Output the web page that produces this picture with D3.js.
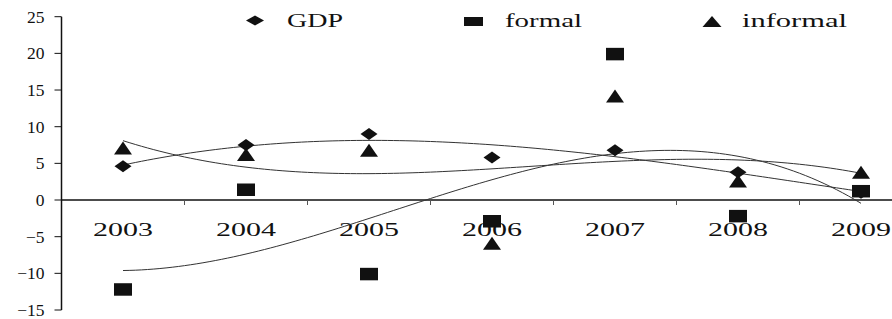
<!DOCTYPE html>
<html>
<head>
<meta charset="utf-8">
<script src="https://cdn.jsdelivr.net/npm/d3@7"></script>
<style>
  body { margin: 0; background: #fff; }
  svg text { font-family: "Liberation Serif", "Times New Roman", serif; fill: #111; }
</style>
</head>
<body>
<div id="chart"></div>
<script>
var years = ["2003", "2004", "2005", "2006", "2007", "2008", "2009"];
var gdp = [4.6, 7.5, 9.0, 5.8, 6.8, 3.8, 1.0];
var formal = [-12.2, 1.4, -10.1, -2.9, 19.9, -2.2, 1.2];
var informal = [7.1, 6.2, 6.8, -5.9, 14.2, 2.6, 3.8];
var y_ticks = [25, 20, 15, 10, 5, 0, -5, -10, -15];
var series_names = ["GDP", "formal", "informal"];

var graph_w = 892;
var graph_h = 319;

var x_ax = d3.scalePoint()
  .domain(years)
  .range([123, 861]);
var step = x_ax.step();
var x_idx = d3.scaleLinear()
  .domain([0, years.length - 1])
  .range([123, 861]);
var y_ax = d3.scaleLinear()
  .domain([-15, 25])
  .range([310, 16.7]);

// least squares polynomial (like the excel trendline), order 3
function polyfit(vals, order) {
  var n = order + 1;
  var A = [], b = [];
  for (var r = 0; r < n; r++) {
    A.push([]);
    for (var c = 0; c < n; c++) {
      A[r].push(d3.sum(vals, function(v, i) { return Math.pow(i, r + c); }));
    }
    b.push(d3.sum(vals, function(v, i) { return v * Math.pow(i, r); }));
  }
  for (var p = 0; p < n; p++) {
    for (var q = p + 1; q < n; q++) {
      var f = A[q][p] / A[p][p];
      for (var k = p; k < n; k++) A[q][k] -= f * A[p][k];
      b[q] -= f * b[p];
    }
  }
  var coef = new Array(n).fill(0);
  for (var p2 = n - 1; p2 >= 0; p2--) {
    var s = b[p2];
    for (var k2 = p2 + 1; k2 < n; k2++) s -= A[p2][k2] * coef[k2];
    coef[p2] = s / A[p2][p2];
  }
  return function(t) {
    return d3.sum(coef, function(c, i) { return c * Math.pow(t, i); });
  };
}

var svg_obj = d3.select("#chart").append("svg")
  .attr("width", graph_w)
  .attr("height", graph_h);

// y axis
var y_axis = svg_obj.append("g")
  .attr("transform", "translate(61.5,0)");
y_axis.append("line")
  .attr("x1", 0).attr("x2", 0)
  .attr("y1", y_ax(25)).attr("y2", y_ax(-15))
  .attr("stroke", "#111").attr("stroke-width", 1.5);
y_axis.selectAll(".ytick")
  .data(y_ticks)
  .enter()
    .append("line")
    .attr("x1", -7).attr("x2", 0)
    .attr("y1", function(d) { return y_ax(d); })
    .attr("y2", function(d) { return y_ax(d); })
    .attr("stroke", "#111").attr("stroke-width", 1);
y_axis.selectAll(".ylabel")
  .data(y_ticks)
  .enter()
    .append("text")
    .attr("x", -17)
    .attr("y", function(d) { return y_ax(d) + 6; })
    .attr("text-anchor", "end")
    .attr("font-size", "17.5px")
    .text(function(d) { return d < 0 ? "\u2212" + Math.abs(d) : d; });

// x axis along zero
var x_axis = svg_obj.append("g");
x_axis.append("line")
  .attr("x1", 61.5).attr("x2", graph_w)
  .attr("y1", y_ax(0)).attr("y2", y_ax(0))
  .attr("stroke", "#111").attr("stroke-width", 1.5);
x_axis.selectAll(".xtick")
  .data(years.slice(1))
  .enter()
    .append("line")
    .attr("x1", function(d) { return x_ax(d) - step / 2; })
    .attr("x2", function(d) { return x_ax(d) - step / 2; })
    .attr("y1", y_ax(0)).attr("y2", y_ax(0) + 5)
    .attr("stroke", "#555").attr("stroke-width", 1);
x_axis.selectAll(".xlabel")
  .data(years)
  .enter()
    .append("text")
    .attr("x", function(d) { return x_ax(d) - 30; })
    .attr("y", 236)
    .attr("font-size", "19.5px")
    .attr("textLength", 60)
    .attr("lengthAdjust", "spacingAndGlyphs")
    .text(function(d) { return d; });

// trend lines
var trend_line = d3.line()
  .x(function(d) { return x_idx(d.t); })
  .y(function(d) { return y_ax(d.v); });
[gdp, formal, informal].forEach(function(vals) {
  var fit = polyfit(vals, 3);
  var pts = d3.range(0, years.length - 1 + 0.001, 0.05).map(function(t) {
    return { t: t, v: fit(t) };
  });
  svg_obj.append("path")
    .attr("fill", "none")
    .attr("stroke", "#333")
    .attr("stroke-width", 1)
    .attr("d", trend_line(pts));
});

// markers
function diamond(w, h) {
  return "M0," + (-h / 2) + "L" + (w / 2) + ",0L0," + (h / 2) + "L" + (-w / 2) + ",0Z";
}
function square(w, h) {
  return "M" + (-w / 2) + "," + (-h / 2) + "h" + w + "v" + h + "h" + (-w) + "Z";
}
function triangle(w, h) {
  return "M0," + (-h / 2) + "L" + (w / 2) + "," + (h / 2) + "L" + (-w / 2) + "," + (h / 2) + "Z";
}
var shapes = [diamond(17, 12), square(18, 12.5), triangle(18, 13)];

[gdp, formal, informal].forEach(function(vals, s) {
  svg_obj.selectAll(".pt" + s)
    .data(vals)
    .enter()
      .append("path")
      .attr("class", "pt" + s)
      .attr("fill", "#111")
      .attr("transform", function(d, i) {
        return "translate(" + x_ax(years[i]) + "," + y_ax(d) + ")";
      })
      .attr("d", shapes[s]);
});

// legend
var legend_pos = [{ mx: 255, my: 20.5, tx: 287, tw: 56 },
                  { mx: 473.5, my: 21.5, tx: 505, tw: 77 },
                  { mx: 712, my: 21.5, tx: 742, tw: 105 }];
var legend_shapes = [diamond(18, 10), square(19, 9), triangle(19, 11)];
series_names.forEach(function(name, i) {
  var lp = legend_pos[i];
  svg_obj.append("path")
    .attr("fill", "#111")
    .attr("transform", "translate(" + lp.mx + "," + lp.my + ")")
    .attr("d", legend_shapes[i]);
  svg_obj.append("text")
    .attr("x", lp.tx)
    .attr("y", 27.3)
    .attr("font-size", "18.5px")
    .attr("textLength", lp.tw)
    .attr("lengthAdjust", "spacingAndGlyphs")
    .text(name);
});
</script>
</body>
</html>
